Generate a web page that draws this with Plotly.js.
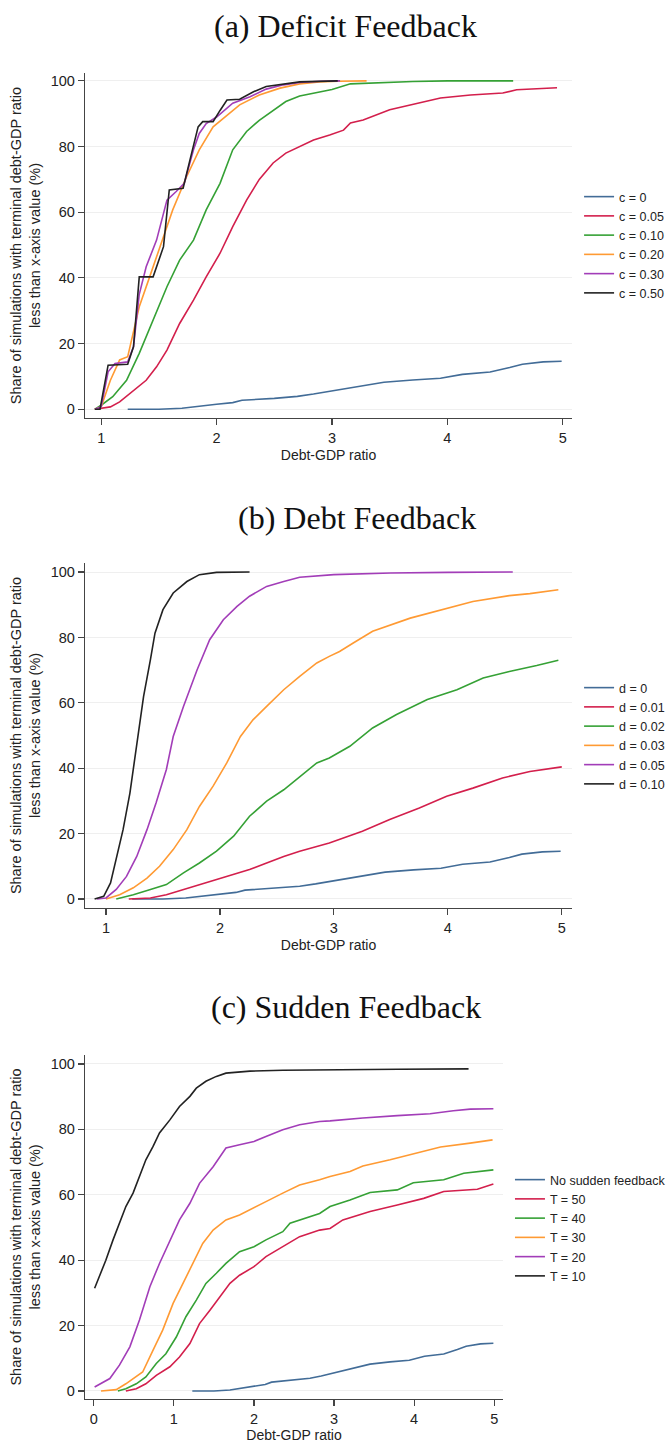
<!DOCTYPE html>
<html>
<head>
<meta charset="utf-8">
<script src="https://cdn.plot.ly/plotly-3.0.1.min.js"></script>
<style>
  html, body { margin: 0; padding: 0; background: #fff; }
  #chart { width: 671px; height: 1443px; }
</style>
</head>
<body>
<div id="chart"></div>
<script>
// baseline run without feedback (same curve in all three panels)
var baseX = [1.23, 1.5, 1.7, 1.85, 2.0, 2.14, 2.22, 2.5, 2.7, 2.84, 3.0, 3.16, 3.3, 3.45, 3.7, 3.94, 4.13, 4.37, 4.54, 4.65, 4.83, 4.99];
var baseY = [0, 0, 0.3, 0.8, 1.5, 2.0, 2.7, 3.3, 3.9, 4.6, 5.5, 6.4, 7.2, 8.2, 8.9, 9.4, 10.6, 11.3, 12.7, 13.7, 14.4, 14.6];

// (a) deficit feedback
var defLabels = ["c = 0", "c = 0.05", "c = 0.10", "c = 0.20", "c = 0.30", "c = 0.50"];
var def05X = [0.945, 1.08, 1.16, 1.28, 1.39, 1.48, 1.57, 1.68, 1.8, 1.91, 2.03, 2.14, 2.26, 2.37, 2.49, 2.6, 2.72, 2.84, 2.98, 3.1, 3.16, 3.27, 3.5, 3.74, 3.94, 4.2, 4.48, 4.6, 4.95];
var def05Y = [0, 0.7, 2.2, 5.8, 8.8, 12.9, 18, 26.1, 33.2, 40.3, 47.5, 55.6, 63.7, 70, 75, 78, 80.1, 82, 83.5, 85, 87.2, 88.1, 91.2, 93.2, 94.8, 95.7, 96.3, 97.3, 97.9];
var def10X = [0.945, 1.0, 1.1, 1.22, 1.33, 1.45, 1.57, 1.68, 1.8, 1.91, 2.03, 2.14, 2.26, 2.37, 2.49, 2.6, 2.72, 2.89, 3.0, 3.16, 3.4, 3.7, 4.0, 4.57];
var def10Y = [0, 1.2, 3.8, 8.8, 17, 27, 37.3, 45.4, 51.5, 60.7, 68.8, 79, 84.6, 88, 91, 93.7, 95.4, 96.7, 97.4, 99.1, 99.5, 99.8, 100, 100];
var def20X = [0.945, 1.0, 1.08, 1.16, 1.23, 1.33, 1.42, 1.51, 1.62, 1.74, 1.85, 1.97, 2.09, 2.2, 2.37, 2.55, 2.72, 2.89, 3.05, 3.30];
var def20Y = [0, 0.7, 8.8, 15, 16, 31.2, 40.3, 49.5, 60.7, 70.8, 79, 86, 89.6, 92.7, 95.7, 97.8, 99.1, 99.7, 99.9, 100];
var def30X = [0.945, 1.0, 1.06, 1.12, 1.23, 1.28, 1.33, 1.39, 1.48, 1.57, 1.65, 1.72, 1.8, 1.85, 1.91, 2.0, 2.14, 2.29, 2.43, 2.58, 2.72, 2.9, 3.07];
var def30Y = [0, 0.7, 11.4, 13.9, 14.4, 19, 35, 43.4, 51.5, 63.7, 66.3, 68.8, 79, 84, 87, 89, 93.2, 95.2, 97.5, 98.8, 99.5, 99.9, 100];
var def50X = [0.945, 0.99, 1.06, 1.23, 1.28, 1.33, 1.45, 1.54, 1.59, 1.71, 1.77, 1.84, 1.88, 1.97, 2.03, 2.09, 2.2, 2.32, 2.43, 2.58, 2.72, 3.05];
var def50Y = [0, 0, 13.4, 13.7, 19, 40.3, 40.3, 49.5, 66.8, 67.3, 76, 86, 87.6, 87.6, 91, 94.2, 94.4, 96.7, 98.3, 99, 99.7, 100];

// (b) debt feedback
var debtLabels = ["d = 0", "d = 0.01", "d = 0.02", "d = 0.03", "d = 0.05", "d = 0.10"];
var debt01X = [1.2, 1.39, 1.53, 1.68, 1.82, 1.97, 2.12, 2.26, 2.41, 2.56, 2.7, 2.85, 2.96, 3.25, 3.49, 3.75, 3.99, 4.22, 4.48, 4.72, 5.0];
var debt01Y = [0, 0.3, 1.3, 2.9, 4.4, 5.9, 7.4, 9, 11, 13, 14.6, 16.1, 17.1, 20.7, 24.3, 27.8, 31.4, 33.9, 37, 39, 40.4];
var debt02X = [1.09, 1.24, 1.39, 1.53, 1.68, 1.82, 1.97, 2.12, 2.26, 2.41, 2.56, 2.7, 2.85, 2.96, 3.14, 3.34, 3.55, 3.82, 4.08, 4.31, 4.54, 4.78, 4.97];
var debt02Y = [0, 1.3, 2.9, 4.4, 8, 11, 14.6, 19.2, 25.3, 29.9, 33.4, 37.5, 41.6, 43.1, 46.7, 52.3, 56.4, 61, 64, 67.6, 69.6, 71.4, 73];
var debt03X = [1.0, 1.12, 1.24, 1.36, 1.47, 1.59, 1.71, 1.82, 1.94, 2.06, 2.18, 2.29, 2.41, 2.56, 2.7, 2.85, 2.96, 3.05, 3.17, 3.34, 3.67, 3.99, 4.22, 4.54, 4.72, 4.97];
var debt03Y = [0, 1.3, 3.4, 6.4, 10, 15.1, 21.2, 28.3, 34.5, 41.6, 49.7, 54.8, 58.9, 64, 68.1, 72.2, 74.2, 75.7, 78.3, 81.9, 85.9, 89, 91, 92.8, 93.4, 94.6];
var debt05X = [0.92, 1.0, 1.09, 1.18, 1.27, 1.36, 1.44, 1.53, 1.59, 1.68, 1.8, 1.91, 2.03, 2.15, 2.26, 2.41, 2.56, 2.7, 3.0, 3.5, 4.0, 4.57];
var debt05Y = [0, 0.3, 2.9, 6.9, 13, 21.2, 29.4, 39.6, 49.7, 58.9, 70.1, 79.3, 85.4, 89.5, 92.6, 95.6, 97.1, 98.4, 99.2, 99.7, 99.9, 100];
var debt10X = [0.9, 0.98, 1.04, 1.09, 1.15, 1.21, 1.27, 1.33, 1.39, 1.43, 1.5, 1.59, 1.71, 1.82, 1.97, 2.26];
var debt10Y = [0, 0.8, 4.9, 12, 21.2, 32.4, 46.7, 62, 73.2, 81.3, 88.5, 93.6, 97.1, 99.2, 99.9, 100];

// (c) sudden feedback
var suddenLabels = ["No sudden feedback", "T = 50", "T = 40", "T = 30", "T = 20", "T = 10"];
var t50X = [0.4, 0.53, 0.65, 0.78, 0.95, 1.07, 1.2, 1.32, 1.45, 1.57, 1.7, 1.82, 2.0, 2.15, 2.36, 2.57, 2.82, 2.95, 3.11, 3.45, 3.79, 4.12, 4.37, 4.79, 4.99];
var t50Y = [0, 0.7, 2.2, 4.8, 7.4, 10.4, 14.5, 20.6, 24.7, 28.8, 32.9, 35.4, 38, 41.1, 44.1, 47.2, 49.2, 49.7, 52.3, 54.9, 56.9, 58.9, 61, 61.7, 63.3];
var t40X = [0.3, 0.4, 0.53, 0.65, 0.78, 0.9, 1.03, 1.15, 1.28, 1.4, 1.53, 1.65, 1.82, 2.0, 2.15, 2.36, 2.45, 2.57, 2.82, 2.95, 3.2, 3.45, 3.79, 3.99, 4.37, 4.62, 4.99];
var t40Y = [0, 0.7, 2.2, 4.3, 8.4, 11.4, 16.5, 22.7, 27.8, 32.9, 36, 39, 42.6, 44.1, 46.2, 48.7, 51.3, 52.3, 54.3, 56.4, 58.4, 60.7, 61.5, 63.7, 64.6, 66.6, 67.6];
var t30X = [0.09, 0.28, 0.4, 0.53, 0.61, 0.74, 0.86, 0.99, 1.11, 1.24, 1.36, 1.49, 1.65, 1.82, 2.0, 2.15, 2.36, 2.57, 2.82, 2.95, 3.2, 3.36, 3.7, 4.04, 4.33, 4.7, 4.98];
var t30Y = [0, 0.4, 2.2, 4.3, 5.8, 12.5, 18.6, 26.8, 32.9, 39, 45.1, 49.2, 52.3, 53.8, 55.9, 57.9, 60.5, 63, 64.6, 65.6, 67.1, 68.8, 70.7, 72.7, 74.6, 75.8, 76.8];
var t20X = [0.01, 0.2, 0.32, 0.45, 0.57, 0.7, 0.82, 0.95, 1.07, 1.2, 1.32, 1.49, 1.65, 1.82, 2.0, 2.15, 2.36, 2.57, 2.82, 2.95, 3.36, 3.79, 4.2, 4.49, 4.7, 4.99];
var t20Y = [1.2, 3.8, 7.9, 13.5, 21.7, 31.9, 39, 46.2, 52.3, 57.4, 63.5, 68.6, 74.3, 75.3, 76.3, 77.8, 79.9, 81.4, 82.4, 82.6, 83.5, 84.2, 84.8, 85.7, 86.2, 86.3];
var t10X = [0.01, 0.07, 0.15, 0.24, 0.32, 0.4, 0.49, 0.57, 0.65, 0.74, 0.82, 0.95, 1.07, 1.2, 1.28, 1.4, 1.53, 1.65, 1.95, 2.36, 2.99, 3.8, 4.68];
var t10Y = [31.4, 34.9, 40, 46.2, 51.3, 56.4, 60.5, 65.6, 70.7, 74.8, 78.9, 82.9, 87, 90.1, 92.6, 94.7, 96.2, 97.2, 97.8, 98.1, 98.3, 98.4, 98.5];

var colors = ['#426c97', '#d31f4c', '#35a135', '#ff9a33', '#a23db8', '#222222'];
var sans = 'Liberation Sans, Arial, Helvetica, sans-serif';
var yTitle = 'Share of simulations with terminal debt-GDP ratio<br>less than x-axis value (%)';

function line(x, y, name, i, n, legend) {
    return {
        x: x, y: y, name: name, type: 'scatter', mode: 'lines',
        line: {color: colors[i], width: 1.6},
        xaxis: 'x' + (n > 1 ? n : ''), yaxis: 'y' + (n > 1 ? n : ''),
        legend: legend, legendgroup: legend + i, hoverinfo: 'skip'
    };
}

function xAxis(domain, range, anchor) {
    return {
        domain: domain, range: range, anchor: anchor, dtick: 1,
        showgrid: false, zeroline: false, showline: true, linecolor: '#444', linewidth: 1.2,
        ticks: 'outside', ticklen: 6, tickcolor: '#444', tickwidth: 1.2,
        tickfont: {family: sans, size: 14.5, color: '#222'},
        title: {text: 'Debt-GDP ratio', font: {family: sans, size: 14, color: '#222'}, standoff: 5}
    };
}

function yAxis(domain, range, anchor) {
    return {
        domain: domain, range: range, anchor: anchor, tickvals: [0, 20, 40, 60, 80, 100],
        showgrid: true, gridcolor: '#efefef', gridwidth: 1, zeroline: false,
        showline: true, linecolor: '#444', linewidth: 1.2,
        ticks: 'outside', ticklen: 6, tickcolor: '#444', tickwidth: 1.2,
        tickfont: {family: sans, size: 14.5, color: '#222'},
        title: {text: yTitle, font: {family: sans, size: 14.5, color: '#222'}, standoff: 6}
    };
}

function legendBox(x, y) {
    return {
        x: x, y: y, xanchor: 'left', yanchor: 'top', bgcolor: 'rgba(0,0,0,0)',
        font: {family: sans, size: 12.5, color: '#222'}, itemwidth: 30,
        tracegroupgap: 1.5, traceorder: 'normal', itemclick: false
    };
}

try {
    var traces = [
        line(baseX, baseY, defLabels[0], 0, 1, 'legend'),
        line(def05X, def05Y, defLabels[1], 1, 1, 'legend'),
        line(def10X, def10Y, defLabels[2], 2, 1, 'legend'),
        line(def20X, def20Y, defLabels[3], 3, 1, 'legend'),
        line(def30X, def30Y, defLabels[4], 4, 1, 'legend'),
        line(def50X, def50Y, defLabels[5], 5, 1, 'legend'),

        line(baseX, baseY, debtLabels[0], 0, 2, 'legend2'),
        line(debt01X, debt01Y, debtLabels[1], 1, 2, 'legend2'),
        line(debt02X, debt02Y, debtLabels[2], 2, 2, 'legend2'),
        line(debt03X, debt03Y, debtLabels[3], 3, 2, 'legend2'),
        line(debt05X, debt05Y, debtLabels[4], 4, 2, 'legend2'),
        line(debt10X, debt10Y, debtLabels[5], 5, 2, 'legend2'),

        line(baseX, baseY, suddenLabels[0], 0, 3, 'legend3'),
        line(t50X, t50Y, suddenLabels[1], 1, 3, 'legend3'),
        line(t40X, t40Y, suddenLabels[2], 2, 3, 'legend3'),
        line(t30X, t30Y, suddenLabels[3], 3, 3, 'legend3'),
        line(t20X, t20Y, suddenLabels[4], 4, 3, 'legend3'),
        line(t10X, t10Y, suddenLabels[5], 5, 3, 'legend3')
    ];

    var H = 1443;
    var titleFont = {family: 'Liberation Serif, Times New Roman, serif', size: 32, color: '#111'};
    var layout = {
        width: 671, height: H,
        margin: {l: 0, r: 0, t: 0, b: 0},
        paper_bgcolor: '#fff', plot_bgcolor: '#fff',
        showlegend: true,
        xaxis: xAxis([0.1267, 0.8525], [0.86, 5.08], 'y'),
        yaxis: yAxis([0.7103, 0.9494], [-2.7, 102.4], 'x'),
        xaxis2: xAxis([0.1267, 0.8525], [0.816, 5.09], 'y2'),
        yaxis2: yAxis([0.3708, 0.6098], [-2.75, 102.75], 'x2'),
        xaxis3: xAxis([0.1267, 0.7496], [-0.11, 5.11], 'y3'),
        yaxis3: yAxis([0.0305, 0.2689], [-2.45, 102.75], 'x3'),
        legend: legendBox(0.863, 1 - 182 / H),
        legend2: legendBox(0.863, 1 - 673 / H),
        legend3: legendBox(0.760, 1 - 1165 / H),
        annotations: [
            {text: '(a) Deficit Feedback', x: 345 / 671, y: 1 - 26 / H},
            {text: '(b) Debt Feedback', x: 357 / 671, y: 1 - 518 / H},
            {text: '(c) Sudden Feedback', x: 346 / 671, y: 1 - 1007 / H}
        ].map(function (a) {
            a.xref = 'paper'; a.yref = 'paper'; a.showarrow = false;
            a.xanchor = 'center'; a.yanchor = 'middle'; a.font = titleFont;
            return a;
        })
    };

    Plotly.newPlot('chart', traces, layout, {staticPlot: true, displayModeBar: false});
} catch (error) {
    document.body.insertAdjacentHTML('beforeend', '<pre>' + error.message + '</pre>');
}
</script>
</body>
</html>
